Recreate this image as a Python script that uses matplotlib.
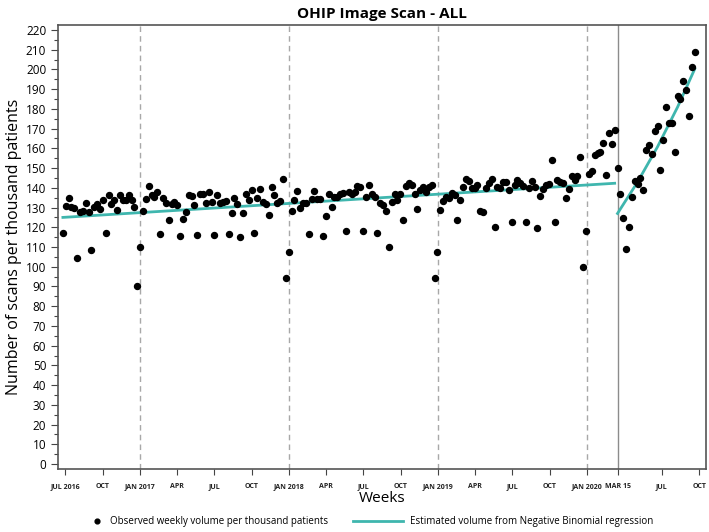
import matplotlib
matplotlib.use("Agg")
import matplotlib.pyplot as plt
from matplotlib.ticker import MultipleLocator
import pandas as pd

# weekly observed volume per thousand patients
first_week = "2016-06-26"
observed = [
    117.2, 130.8, 134.8, 130.1, 129.6, 104.6, 127.6, 128.5, 132.1, 127.6,
    108.3, 130.4, 132.0, 129.4, 133.6, 117.2, 136.2, 132.0, 133.8, 128.7,
    136.2, 133.8, 133.8, 136.6, 133.8, 130.2, 90.4, 110.0, 128.4, 134.3,
    141.0, 136.2, 135.4, 138.0, 116.6, 135.0, 132.4, 123.5, 132.0, 132.6,
    131.3, 115.4, 124.0, 127.6, 136.6, 135.9, 131.3, 116.3, 137.1, 137.1,
    132.3, 137.9, 132.6, 116.3, 136.6, 132.4, 132.8, 133.1, 116.5, 127.0,
    135.0, 132.0, 114.9, 127.0, 136.7, 134.0, 138.8, 117.0, 134.6, 139.2,
    132.8, 132.0, 126.1, 140.4, 136.2, 132.3, 133.3, 144.3, 94.1, 107.6,
    128.4, 133.8, 138.4, 129.9, 132.1, 132.1, 116.7, 134.2, 138.5, 134.2,
    134.4, 115.7, 125.7, 136.8, 130.3, 135.2, 135.5, 136.8, 137.5, 117.9,
    137.8, 136.7, 138.0, 141.0, 140.2, 118.3, 135.5, 141.6, 136.7, 135.1,
    117.1, 132.1, 131.1, 128.4, 110.0, 133.0, 136.7, 133.8, 136.8, 123.5,
    140.9, 142.3, 141.4, 136.8, 129.4, 138.7, 140.6, 138.0, 140.4, 141.6,
    94.1, 107.6, 128.7, 133.1, 135.1, 134.6, 137.4, 136.2, 123.5, 134.0,
    140.6, 144.6, 143.6, 139.9, 140.1, 141.4, 128.2, 127.6, 139.7, 142.6,
    144.6, 120.3, 140.6, 140.1, 143.1, 143.1, 138.9, 122.8, 141.2, 143.8,
    142.6, 140.8, 122.8, 139.7, 143.4, 140.5, 119.8, 136.0, 139.5, 141.2,
    141.7, 154.1, 122.8, 143.9, 143.1, 142.3, 134.7, 139.5, 146.0, 144.1,
    146.1, 155.6, 99.8, 118.3, 147.0, 148.7, 156.8, 157.8, 158.0, 162.7,
    146.6, 167.9, 162.3, 169.1, 149.9, 136.8, 124.5, 109.0, 120.3, 135.2,
    143.4, 141.9, 144.8, 138.9, 159.1, 161.8, 157.3, 168.9, 171.5, 148.8,
    164.4, 181.0, 172.7, 172.8, 158.0, 186.5, 184.8, 194.0, 189.6, 176.5,
    201.4, 208.7,
]

# fitted negative binomial trend, pre and post March 15 2020
trend_pre_dates = ["2016-06-26", "2020-03-08"]
trend_pre_values = [125.0, 142.3]
trend_post_dates = ["2020-03-15", "2020-05-03", "2020-06-21", "2020-08-09", "2020-09-20"]
trend_post_values = [127.0, 142.9, 160.8, 180.9, 200.2]

tick_dates = ["2016-07-01", "2016-10-01", "2017-01-01", "2017-04-01", "2017-07-01",
              "2017-10-01", "2018-01-01", "2018-04-01", "2018-07-01", "2018-10-01",
              "2019-01-01", "2019-04-01", "2019-07-01", "2019-10-01", "2020-01-01",
              "2020-03-15", "2020-07-01", "2020-10-01"]
tick_labels = ["JUL 2016", "OCT", "JAN 2017", "APR", "JUL", "OCT", "JAN 2018", "APR",
               "JUL", "OCT", "JAN 2019", "APR", "JUL", "OCT", "JAN 2020", "MAR 15",
               "JUL", "OCT"]
year_lines = ["2017-01-01", "2018-01-01", "2019-01-01", "2020-01-01"]
break_date = "2020-03-15"

plt.rcParams["font.family"] = ["Open Sans", "DejaVu Sans"]

teal = "#3fb6ae"
weeks = pd.date_range(first_week, periods=len(observed), freq="7D")

fig = plt.figure(figsize=(7.09, 5.32), dpi=100)
ax = fig.add_axes([0.0818, 0.1184, 0.9136, 0.8346])

# reference lines for each new year and the pandemic break
for d in year_lines:
    ax.axvline(pd.Timestamp(d), color="#a8a8a8", linestyle=(0, (4, 3)), linewidth=1, zorder=1)
ax.axvline(pd.Timestamp(break_date), color="#8c8c8c", linewidth=1, zorder=1)

dots, = ax.plot(weeks, observed, "o", color="black", markersize=4.3, zorder=3)
trend, = ax.plot(pd.to_datetime(trend_pre_dates), trend_pre_values, color=teal,
                 linewidth=2, zorder=2)
ax.plot(pd.to_datetime(trend_post_dates), trend_post_values, color=teal, linewidth=2, zorder=2)

ax.set_xlim(pd.Timestamp("2016-06-14"), pd.Timestamp("2020-10-17"))
ax.set_ylim(-2.5, 222.5)

ax.set_xticks(pd.to_datetime(tick_dates))
ax.set_xticklabels(tick_labels, fontsize=5, fontweight="bold", color="#222222")
ax.yaxis.set_major_locator(MultipleLocator(10))
ax.yaxis.set_minor_locator(MultipleLocator(5))
ax.tick_params(axis="y", labelsize=8.5, length=5, width=0.8, color="#444444")
ax.tick_params(axis="y", which="minor", length=3, width=0.8, color="#444444")
ax.tick_params(axis="x", length=4, width=0.8, color="#444444", pad=6)

for spine in ax.spines.values():
    spine.set_color("#555555")
    spine.set_linewidth(1.2)

ax.set_xlabel("Weeks", fontsize=11, labelpad=1)
ax.set_ylabel("Number of scans per thousand patients", fontsize=11.5, labelpad=3)
ax.set_title("OHIP Image Scan - ALL", fontsize=11, fontweight="bold", pad=5)

# two separate legend entries so each handle gets its own length
leg_opts = dict(loc="center left", frameon=False, fontsize=7, borderpad=0, borderaxespad=0)
fig.legend([dots], ["Observed weekly volume per thousand patients"],
           bbox_to_anchor=(92 / 709, 0.019), handlelength=1, handletextpad=0.8,
           markerscale=0.8, **leg_opts)
fig.legend([trend], ["Estimated volume from Negative Binomial regression"],
           bbox_to_anchor=(353 / 709, 0.019), handlelength=5.15, handletextpad=0.7, **leg_opts)

plt.savefig("out.png", dpi=100)
